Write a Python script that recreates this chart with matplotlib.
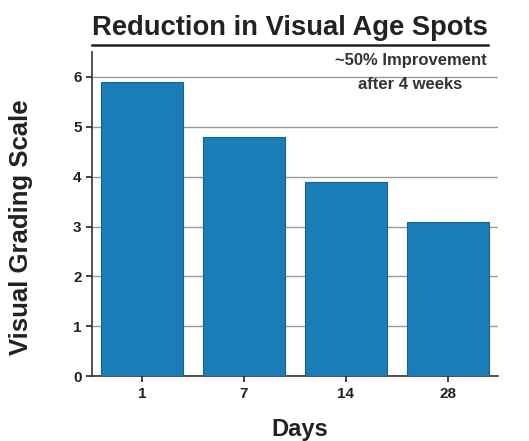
import matplotlib
matplotlib.use("Agg")
import matplotlib.pyplot as plt
from matplotlib.lines import Line2D

plt.rcParams['font.family'] = ['Liberation Sans', 'DejaVu Sans']

days = ['1', '7', '14', '28']
grading = [5.9, 4.8, 3.9, 3.1]
yticks = [0, 1, 2, 3, 4, 5, 6]

fig = plt.figure(figsize=(5.29, 4.41), dpi=100)
ax = fig.add_axes([0.174, 0.147, 0.767, 0.735])

x = range(len(days))
ax.bar(x, grading, width=0.8, color='#1b7db8', edgecolor='#15608e', linewidth=0.8, zorder=3)

ax.set_xlim(-0.49, 3.49)
ax.set_ylim(0, 6.5)
ax.set_yticks(yticks)
ax.set_xticks(list(x))
ax.set_xticklabels(days)
ax.tick_params(axis='both', labelsize=11, width=1.2, length=4, colors='#222222')
for lbl in ax.get_xticklabels() + ax.get_yticklabels():
    lbl.set_fontweight('bold')

ax.yaxis.grid(True, color='#999999', linewidth=1.0, zorder=0)
ax.spines['top'].set_visible(False)
ax.spines['right'].set_visible(False)
ax.spines['left'].set_color('#333333')
ax.spines['bottom'].set_color('#333333')
ax.spines['left'].set_linewidth(1.2)
ax.spines['bottom'].set_linewidth(1.2)

ax.set_ylabel('Visual Grading Scale', fontsize=18.5, fontweight='bold', color='#222222')
ax.yaxis.set_label_coords(-0.145, 0.46)
ax.set_xlabel('Days', fontsize=17, fontweight='bold', color='#222222')
ax.xaxis.set_label_coords(0.512, -0.13)

ax.text(0.785, 0.997, '~50% Improvement\nafter 4 weeks', transform=ax.transAxes,
        ha='center', va='top', fontsize=12, fontweight='bold', color='#333333',
        linespacing=1.75, zorder=5)

title = fig.text(0.548, 0.936, 'Reduction in Visual Age Spots', ha='center', va='center',
                 fontsize=19.7, fontweight='bold', color='#222222')

# underline the title
fig.canvas.draw()
bb = title.get_window_extent().transformed(fig.transFigure.inverted())
uy = bb.y0 - 0.008
fig.add_artist(Line2D([bb.x0, bb.x1], [uy, uy], transform=fig.transFigure,
                      color='#222222', linewidth=1.8))

fig.savefig('out.png', dpi=100, facecolor='white')
